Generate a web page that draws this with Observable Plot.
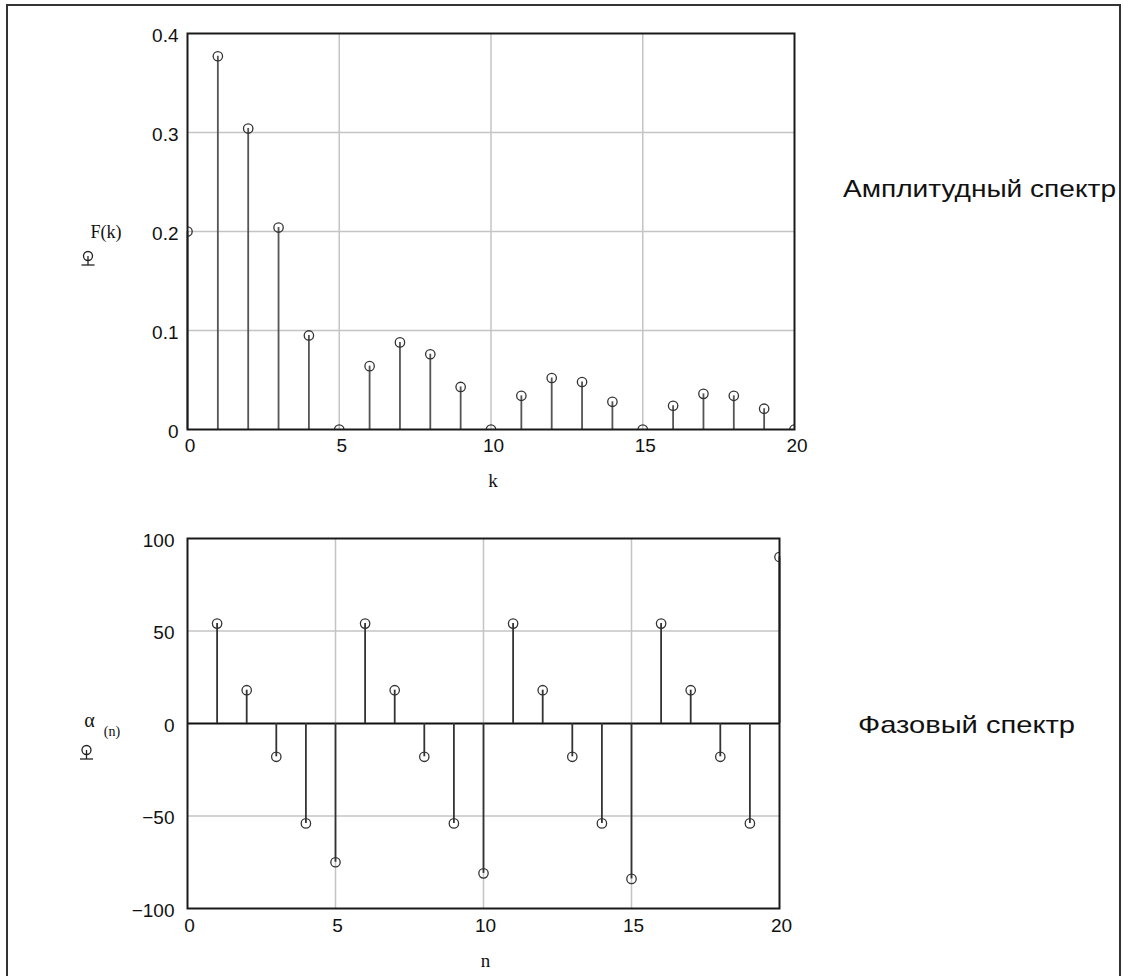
<!DOCTYPE html>
<html>
<head>
<meta charset="utf-8">
<script src="https://cdn.jsdelivr.net/npm/d3@7"></script>
<script src="https://cdn.jsdelivr.net/npm/@observablehq/plot@0.6"></script>
<style>
  html, body { margin: 0; padding: 0; background: #fff; }
  #page { position: relative; width: 1123px; height: 976px; overflow: hidden; background: #fff; }
  #outer { position: absolute; left: 6px; top: 4px; width: 1115px; height: 1100px; box-sizing: border-box; border: 2px solid #333; }
  .chart { position: absolute; left: 0; }
  .overlay { position: absolute; left: 0; top: 0; }
</style>
</head>
<body>
<div id="page">
  <div id="outer"></div>
  <div id="topChart" class="chart" style="top:0px"></div>
  <div id="botChart" class="chart" style="top:500px"></div>
  <svg class="overlay" width="1123" height="976" id="ov"></svg>
</div>
<script>
// ---- data ----
const kIndex = [0, 1, 2, 3, 4, 5, 6, 7, 8, 9, 10, 11, 12, 13, 14, 15, 16, 17, 18, 19, 20];
const amplitude = [0.200, 0.377, 0.304, 0.204, 0.095, 0, 0.064, 0.088, 0.076, 0.043, 0,
                   0.034, 0.052, 0.048, 0.028, 0, 0.024, 0.036, 0.034, 0.021, 0];
const nIndex = [1, 2, 3, 4, 5, 6, 7, 8, 9, 10, 11, 12, 13, 14, 15, 16, 17, 18, 19, 20];
const phase = [54, 18, -18, -54, -75, 54, 18, -18, -54, -81,
               54, 18, -18, -54, -84, 54, 18, -18, -54, 90];
const xTicks = [0, 5, 10, 15, 20];
const xGrid = [5, 10, 15];
const ampTicks = [0, 0.1, 0.2, 0.3, 0.4];
const ampGrid = [0.1, 0.2, 0.3];
const phaseTicks = [-100, -50, 0, 50, 100];
const phaseGrid = [-50, 50];
const ampTitle = "Амплитудный спектр";
const phaseTitle = "Фазовый спектр";

const ampData = kIndex.map((k, i) => ({k, v: amplitude[i]}));
const phaseData = nIndex.map((n, i) => ({n, v: phase[i]}));

const SANS = "'Liberation Sans', Arial, sans-serif";
const SERIF = "'Liberation Serif', 'Times New Roman', serif";
const gridStyle = {stroke: "#c4c4c4", strokeOpacity: 1, strokeWidth: 1.5};
const labelStyle = {fontFamily: SERIF, fill: "#111", textAnchor: "middle", lineAnchor: "middle"};

// ---- top chart: amplitude spectrum ----
const ampPlot = Plot.plot({
  width: 1123, height: 500,
  marginLeft: 187, marginRight: 329, marginTop: 33, marginBottom: 71,
  x: {domain: [0, 20]},
  y: {domain: [0, 0.4]},
  style: {background: "transparent", fontFamily: SANS, overflow: "visible"},
  marks: [
    Plot.gridX(xGrid, gridStyle),
    Plot.gridY(ampGrid, gridStyle),
    Plot.ruleX(ampData, {x: "k", y1: 0, y2: "v", stroke: "#555", strokeWidth: 1.8}),
    Plot.dot(ampData, {x: "k", y: "v", r: 4.7, stroke: "#333", strokeWidth: 1.3, fill: "none", clip: true}),
    Plot.frame({stroke: "#1a1a1a", strokeWidth: 2}),
    Plot.axisX({ticks: xTicks, tickSize: 0, tickPadding: 9, fontSize: 19, dx: 2.5, label: null,
                tickFormat: d => String(d), fill: "#111"}),
    Plot.axisY({ticks: ampTicks, tickSize: 0, tickPadding: 9, fontSize: 19, dy: 2, label: null,
                tickFormat: d => String(d), fill: "#111"}),
    Plot.text(["k"], {frameAnchor: "bottom", dy: 51, dx: 2, fontSize: 19, ...labelStyle}),
    Plot.text(["F(k)"], {frameAnchor: "left", dx: -81.5, dy: 1, fontSize: 18, ...labelStyle})
  ]
});
document.getElementById("topChart").appendChild(ampPlot);

// ---- bottom chart: phase spectrum ----
const phasePlot = Plot.plot({
  width: 1123, height: 476,
  marginLeft: 187, marginRight: 344, marginTop: 38, marginBottom: 68,
  x: {domain: [0, 20]},
  y: {domain: [-100, 100]},
  style: {background: "transparent", fontFamily: SANS, overflow: "visible"},
  marks: [
    Plot.gridX(xGrid, gridStyle),
    Plot.gridY(phaseGrid, gridStyle),
    Plot.ruleY([0], {stroke: "#111", strokeWidth: 2}),
    Plot.ruleX(phaseData, {x: "n", y1: 0, y2: "v", stroke: "#333", strokeWidth: 1.8}),
    Plot.dot(phaseData, {x: "n", y: "v", r: 4.7, stroke: "#333", strokeWidth: 1.3, fill: "none", clip: true}),
    Plot.frame({stroke: "#1a1a1a", strokeWidth: 2}),
    Plot.axisX({ticks: xTicks, tickSize: 0, tickPadding: 10, fontSize: 19, dx: 2, label: null,
                tickFormat: d => String(d), fill: "#111"}),
    Plot.axisY({ticks: phaseTicks, tickSize: 0, tickPadding: 13, fontSize: 19, dy: 2, label: null,
                tickFormat: d => d < 0 ? "\u2212" + Math.abs(d) : String(d), fill: "#111"}),
    Plot.text(["n"], {frameAnchor: "bottom", dy: 52, dx: 2, fontSize: 19, ...labelStyle}),
    Plot.text(["\u03b1"], {frameAnchor: "left", dx: -98, dy: -3, fontSize: 20, ...labelStyle}),
    Plot.text(["(n)"], {frameAnchor: "left", dx: -75.5, dy: 8, fontSize: 14, ...labelStyle})
  ]
});
document.getElementById("botChart").appendChild(phasePlot);

// ---- overlay: legend trace markers and side captions ----
const ov = d3.select("#ov");
function traceMarker(cx, cy) {
  const g = ov.append("g").attr("stroke", "#222").attr("stroke-width", 1.3).attr("fill", "none");
  g.append("circle").attr("cx", cx).attr("cy", cy).attr("r", 4.5);
  g.append("line").attr("x1", cx).attr("x2", cx).attr("y1", cy).attr("y2", cy + 9);
  g.append("line").attr("x1", cx - 6.5).attr("x2", cx + 6.5).attr("y1", cy + 9).attr("y2", cy + 9);
}
traceMarker(88, 256);
traceMarker(86.5, 750);

ov.append("text").attr("x", 843).attr("y", 197)
  .attr("textLength", 273).attr("lengthAdjust", "spacingAndGlyphs")
  .style("font-family", SANS).style("font-size", "24px").attr("fill", "#111").text(ampTitle);
ov.append("text").attr("x", 858).attr("y", 733)
  .attr("textLength", 217).attr("lengthAdjust", "spacingAndGlyphs")
  .style("font-family", SANS).style("font-size", "24px").attr("fill", "#111").text(phaseTitle);
</script>
</body>
</html>
